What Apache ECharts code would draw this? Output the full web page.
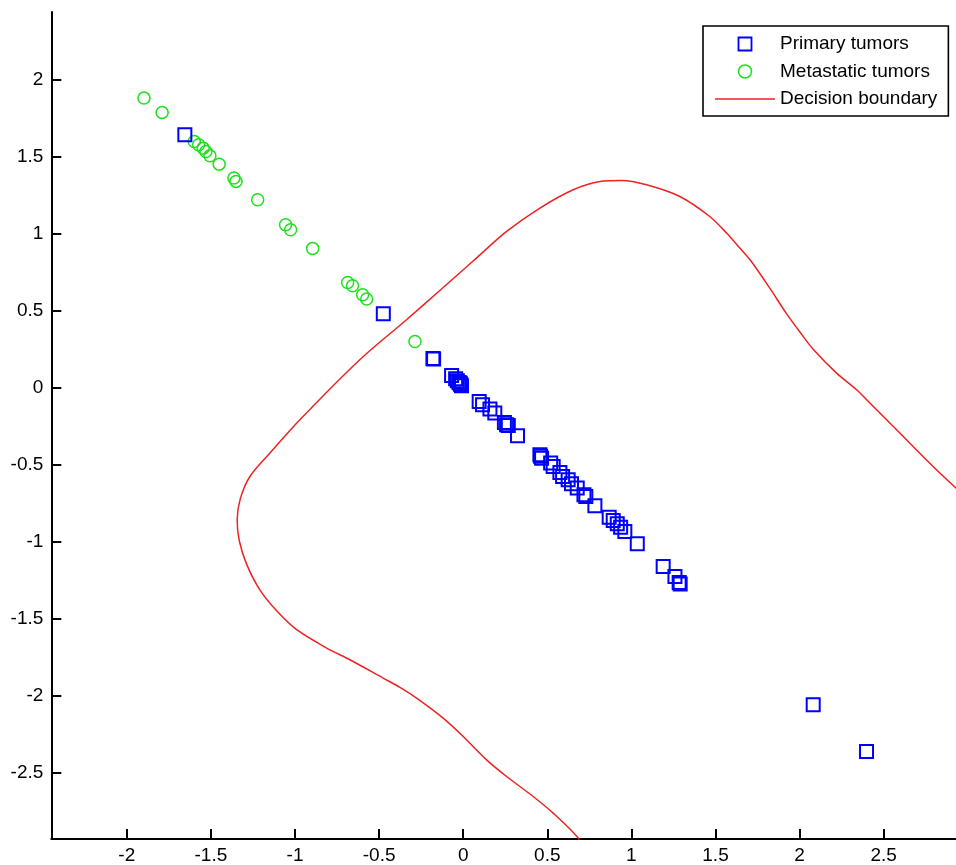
<!DOCTYPE html>
<html>
<head>
<meta charset="utf-8">
<title>Decision boundary</title>
<script src="https://cdn.jsdelivr.net/npm/echarts@6/dist/echarts.min.js"></script>
<style>
  html, body { margin: 0; padding: 0; background: #fff; }
  #myChart { width: 956px; height: 865px; }
</style>
</head>
<body>
<div id="myChart"></div>
<script>
// tick labels on both axes
const xTicks = [-2, -1.5, -1, -0.5, 0, 0.5, 1, 1.5, 2, 2.5]
const yTicks = [-2.5, -2, -1.5, -1, -0.5, 0, 0.5, 1, 1.5, 2]

// blue squares
const primaryTumors = [
  [-1.655, 1.643], [-0.475, 0.481], [-0.180, 0.190], [-0.176, 0.186],
  [-0.069, 0.080], [-0.045, 0.058], [-0.035, 0.045], [-0.025, 0.035],
  [-0.018, 0.030], [-0.015, 0.022], [-0.010, 0.013],
  [0.095, -0.089], [0.115, -0.110], [0.159, -0.138], [0.188, -0.164],
  [0.245, -0.225], [0.258, -0.240], [0.268, -0.245], [0.323, -0.312],
  [0.456, -0.435], [0.460, -0.445], [0.466, -0.457], [0.520, -0.489],
  [0.535, -0.511], [0.575, -0.550], [0.591, -0.576], [0.624, -0.597],
  [0.644, -0.623], [0.678, -0.651], [0.718, -0.695], [0.729, -0.706],
  [0.783, -0.766], [0.868, -0.840], [0.892, -0.862], [0.916, -0.883],
  [0.936, -0.905], [0.961, -0.933], [1.035, -1.013], [1.189, -1.160],
  [1.259, -1.225], [1.284, -1.264], [1.290, -1.275],
  [2.081, -2.058], [2.398, -2.362]
]

// green circles
const metastaticTumors = [
  [-1.898, 1.881], [-1.790, 1.788], [-1.599, 1.599], [-1.573, 1.578],
  [-1.546, 1.556], [-1.530, 1.534], [-1.506, 1.506], [-1.451, 1.452],
  [-1.363, 1.362], [-1.351, 1.340], [-1.222, 1.221], [-1.056, 1.058],
  [-1.026, 1.026], [-0.895, 0.905], [-0.687, 0.684], [-0.658, 0.662],
  [-0.598, 0.604], [-0.574, 0.576], [-0.287, 0.301]
]

// red curve, traced from the bottom end round to the right edge
const decisionBoundary = [
  [0.690, -2.960], [0.684, -2.924], [0.535, -2.762], [0.416, -2.654], [0.258, -2.524],
  [0.139, -2.416], [0.000, -2.264], [-0.119, -2.145], [-0.277, -2.015],
  [-0.376, -1.945], [-0.476, -1.885], [-0.674, -1.766], [-0.812, -1.690],
  [-0.990, -1.571], [-1.109, -1.448], [-1.209, -1.312], [-1.288, -1.145],
  [-1.332, -0.990], [-1.344, -0.857], [-1.325, -0.720], [-1.268, -0.576],
  [-1.149, -0.424], [-0.971, -0.208], [-0.615, 0.182], [-0.337, 0.442],
  [-0.139, 0.632], [0.059, 0.823], [0.258, 1.015],
  [0.456, 1.167], [0.654, 1.286], [0.813, 1.340], [0.942, 1.346],
  [1.090, 1.318], [1.288, 1.242], [1.466, 1.112], [1.566, 1.005],
  [1.645, 0.907], [1.710, 0.825], [1.824, 0.645], [1.918, 0.488],
  [2.002, 0.362], [2.081, 0.250], [2.220, 0.095], [2.339, -0.013],
  [2.418, -0.099], [2.596, -0.294], [2.794, -0.511], [2.929, -0.651], [2.960, -0.680]
]

var myChart = echarts.init(document.getElementById('myChart'))

var fontFamily = '"Liberation Sans", Arial, sans-serif'

var axisCommon = {
  type: 'value',
  splitLine: { show: false },
  axisLine: { show: true, onZero: false, lineStyle: { color: '#000', width: 2 } },
  axisTick: { show: true, inside: true, length: 10, lineStyle: { color: '#000', width: 2 } },
  axisLabel: { color: '#000', fontSize: 19, fontFamily: fontFamily }
}

var option = {
  animation: false,
  backgroundColor: '#fff',
  grid: { left: 51.3, right: 0, top: 12, bottom: 25.7 },
  xAxis: echarts.util.merge({
    min: -2.449,
    max: 2.93,
    axisTick: { customValues: xTicks },
    axisLabel: { customValues: xTicks, margin: 7 }
  }, axisCommon, false),
  yAxis: echarts.util.merge({
    min: -2.93,
    max: 2.44,
    axisTick: { customValues: yTicks },
    axisLabel: { customValues: yTicks, margin: 8 }
  }, axisCommon, false),
  legend: {
    orient: 'vertical',
    left: 703,
    top: 26,
    padding: [8, 11, 7, 12],
    itemGap: 7.5,
    itemWidth: 60,
    itemHeight: 13,
    borderColor: '#000',
    borderWidth: 1.6,
    backgroundColor: '#fff',
    textStyle: { color: '#000', fontSize: 19, lineHeight: 20, fontFamily: fontFamily },
    data: [
      {
        name: 'Primary tumors',
        icon: 'path://M0,0L10,0L10,10L0,10Z',
        itemStyle: { color: 'rgba(0,0,0,0)', borderColor: '#0000ff', borderWidth: 1.8 }
      },
      {
        name: 'Metastatic tumors',
        icon: 'circle',
        itemStyle: { color: 'rgba(0,0,0,0)', borderColor: '#1ee01e', borderWidth: 1.5 }
      },
      {
        name: 'Decision boundary',
        icon: 'path://M0,0L60,0L60,1.5L0,1.5Z',
        itemStyle: { color: '#ee2222', borderWidth: 0 }
      }
    ]
  },
  series: [
    {
      name: 'Decision boundary',
      type: 'line',
      data: decisionBoundary,
      symbol: 'none',
      smooth: 0.3,
      clip: true,
      lineStyle: { color: '#ee2222', width: 1.5 },
      itemStyle: { color: '#ee2222' },
      z: 1
    },
    {
      name: 'Metastatic tumors',
      type: 'scatter',
      data: metastaticTumors,
      symbol: 'circle',
      symbolSize: 12,
      itemStyle: { color: 'rgba(0,0,0,0)', borderColor: '#1ee01e', borderWidth: 1.5, opacity: 1 },
      z: 2
    },
    {
      name: 'Primary tumors',
      type: 'scatter',
      data: primaryTumors,
      symbol: 'rect',
      symbolSize: 13,
      itemStyle: { color: 'rgba(0,0,0,0)', borderColor: '#0000ff', borderWidth: 2, opacity: 1 },
      z: 3
    }
  ]
}

myChart.setOption(option)
</script>
</body>
</html>
